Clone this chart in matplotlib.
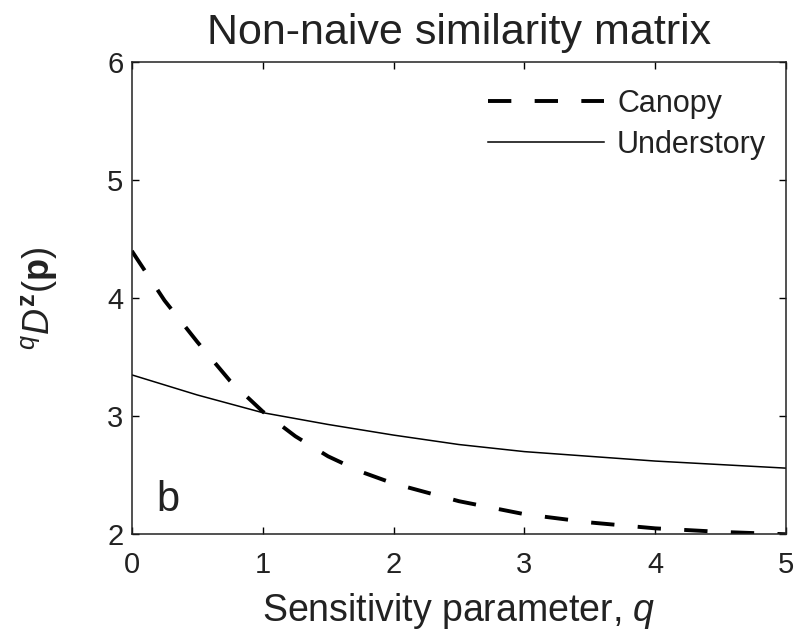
import matplotlib
matplotlib.use('Agg')
import matplotlib.pyplot as plt

# values
q = [0, 0.25, 0.5, 0.75, 1.0, 1.25, 1.5, 1.75, 2.0, 2.5, 3.0, 3.5, 4.0, 4.5, 5.0]
canopy = [4.40, 3.98, 3.63, 3.30, 3.04, 2.83, 2.66, 2.53, 2.43, 2.28, 2.17, 2.10, 2.05, 2.02, 2.00]

q_under = [0, 0.5, 1.0, 1.5, 2.0, 2.5, 3.0, 3.5, 4.0, 4.5, 5.0]
understory = [3.35, 3.18, 3.03, 2.93, 2.84, 2.76, 2.70, 2.66, 2.62, 2.59, 2.56]

plt.rcParams['font.family'] = ['Liberation Sans', 'DejaVu Sans']
plt.rcParams['mathtext.fontset'] = 'custom'
plt.rcParams['mathtext.rm'] = 'Liberation Sans'
plt.rcParams['mathtext.it'] = 'Liberation Sans:italic'
plt.rcParams['mathtext.bf'] = 'Liberation Sans:bold'

fig = plt.figure(figsize=(7.94, 6.33), dpi=100)
ax = fig.add_axes([0.166, 0.156, 0.824, 0.746])

ax.plot(q, canopy, color='black', lw=2.8, dashes=(6, 6), label='Canopy')
ax.plot(q_under, understory, color='black', lw=1.1, label='Understory')

ax.set_xlim(0, 5)
ax.set_ylim(2, 6)
ax.set_xticks([0, 1, 2, 3, 4, 5])
ax.set_yticks([2, 3, 4, 5, 6])
ax.tick_params(direction='in', length=5, width=1, labelsize=21, top=True, right=True,
               pad=6, labelcolor='#222222')
ax.tick_params(axis='x', pad=12)
for s in ax.spines.values():
    s.set_linewidth(1.1)
    s.set_color('#222222')

ax.set_title('Non-naive similarity matrix', fontsize=31, pad=13, color='#222222')
ax.set_xlabel('Sensitivity parameter, $q$', fontsize=27, labelpad=9, color='#222222')
ax.set_ylabel(r'${}^{q}D^{\mathbf{z}}(\mathbf{p})$', fontsize=26, labelpad=35, color='#222222')

ax.text(0.038, 0.05, 'b', transform=ax.transAxes, fontsize=30, color='#222222')

leg = ax.legend(loc='upper right', bbox_to_anchor=(1.0, 0.985), frameon=False,
                fontsize=22, handlelength=3.8, handletextpad=0.42, labelspacing=0.35,
                borderaxespad=0.25)
for t in leg.get_texts():
    t.set_color('#222222')

fig.savefig('out.png', dpi=100)
